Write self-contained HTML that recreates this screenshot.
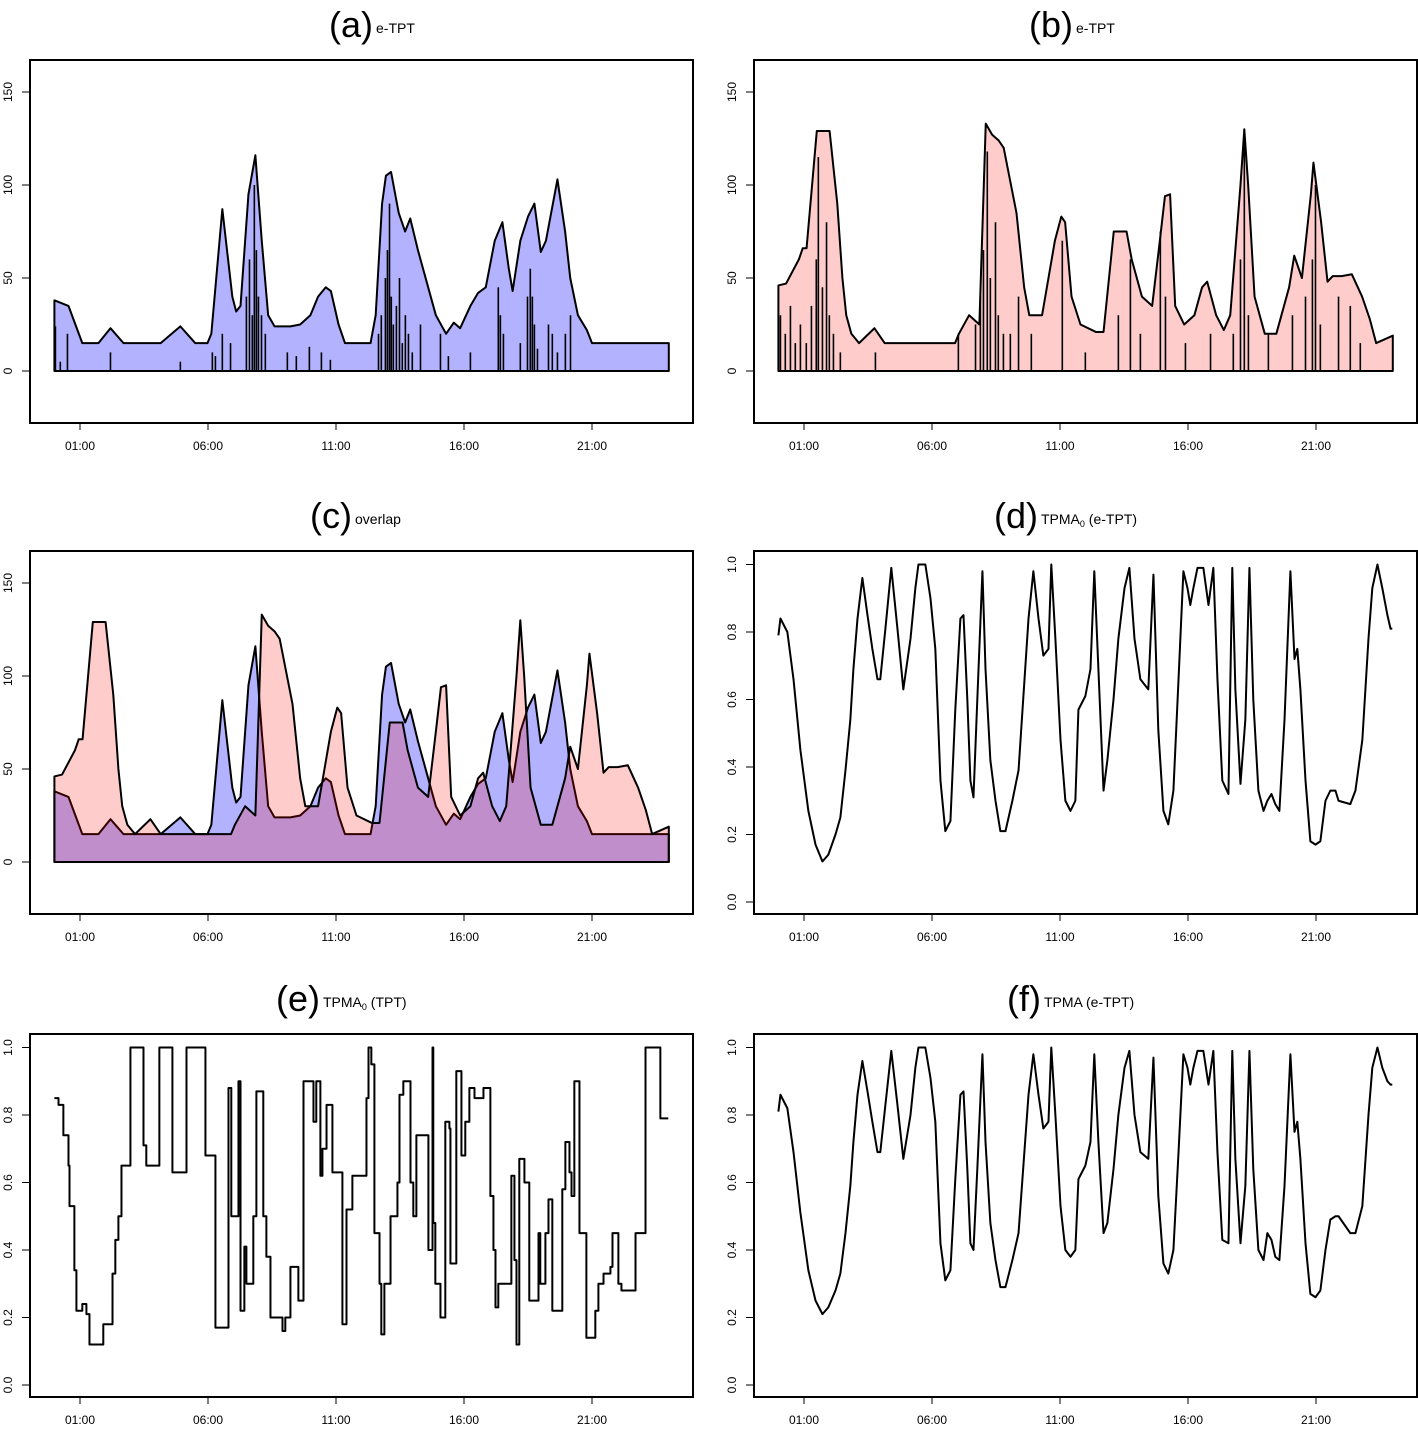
<!DOCTYPE html>
<html><head><meta charset="utf-8"><style>
html,body{margin:0;padding:0;background:#fff;}
svg{display:block;font-family:"Liberation Sans",Arial,sans-serif;}
</style></head><body>
<svg id="fig" width="1418" height="1429" viewBox="0 0 1418 1429"></svg>
<script>
// ---------- data ----------
const aTimes=[0,0.55,1.09,1.72,2.19,2.7,4.15,4.92,5.5,5.98,6.13,6.56,6.95,7.1,7.27,7.58,7.85,8.1,8.35,8.6,9.22,9.6,10.0,10.3,10.6,10.8,11.1,11.35,12.35,12.55,12.8,12.95,13.15,13.45,13.7,13.9,14.2,14.6,14.9,15.3,15.6,15.85,16.25,16.55,16.85,17.2,17.5,17.75,17.9,18.2,18.5,18.75,19.0,19.2,19.65,19.95,20.15,20.45,20.8,21.0,24.0];
const aValues=[38,35,15,15,23,15,15,24,15,15,20,87,40,32,35,95,116,70,30,24,24,25,30,40,45,43,25,15,15,30,90,105,107,85,75,82,65,45,30,20,26,23,35,42,45,70,80,55,43,70,83,90,64,70,103,75,50,30,22,15,15];
const bTimes=[0,0.3,0.8,0.95,1.1,1.5,2.0,2.3,2.5,2.65,2.85,3.15,3.75,4.15,6.9,7.05,7.45,7.85,8.1,8.35,8.6,8.8,9.3,9.6,9.8,10.3,10.8,11.05,11.2,11.45,11.8,12.4,12.7,13.1,13.6,13.8,14.2,14.6,14.9,15.1,15.3,15.5,15.85,16.25,16.55,16.75,17.1,17.4,17.65,18.05,18.2,18.35,18.6,19.0,19.45,19.95,20.15,20.45,20.8,20.9,21.2,21.45,21.65,22.0,22.4,22.8,23.1,23.35,24.0];
const bValues=[46,47,60,66,66,129,129,90,50,30,20,15,23,15,15,20,30,25,133,127,124,120,85,45,30,30,70,83,80,40,25,21,21,75,75,60,40,35,70,94,95,35,25,30,45,48,30,22,30,100,130,100,40,20,20,45,62,50,95,112,80,48,51,51,52,40,28,15,19];
const aSpikeTimes=[0.04,0.23,0.51,2.19,4.92,6.17,6.29,6.56,6.88,7.5,7.62,7.73,7.81,7.89,7.97,8.09,8.24,9.1,9.45,9.96,10.43,10.78,12.66,12.77,12.93,13.01,13.09,13.16,13.24,13.36,13.48,13.59,13.71,13.83,13.98,14.3,15.08,15.39,16.25,17.34,17.42,17.54,18.2,18.48,18.59,18.67,18.75,18.87,19.3,19.45,19.65,19.96,20.16];
const aSpikeValues=[24,5,20,10,5,10,8,20,15,40,60,30,100,65,40,30,20,10,8,13,10,6,20,30,50,65,90,40,25,35,50,15,30,20,10,25,20,8,10,45,30,20,15,40,55,40,25,12,25,20,10,20,30];
const bSpikeTimes=[0.08,0.27,0.47,0.66,0.86,1.09,1.29,1.48,1.56,1.72,1.88,1.99,2.15,2.42,3.79,7.03,7.7,7.89,8.01,8.16,8.28,8.48,8.59,8.79,9.06,9.38,9.88,11.09,11.99,13.28,13.75,14.14,14.92,15.12,15.9,16.88,17.77,18.05,18.2,18.36,19.14,20.08,20.59,20.86,20.98,21.17,21.88,22.34,22.73];
const bSpikeValues=[30,20,35,15,25,15,35,60,115,45,80,30,20,10,10,20,25,40,65,118,50,80,30,20,20,40,20,70,10,30,60,20,75,40,15,20,20,60,125,30,20,30,40,60,100,25,40,35,15];
const dTimes=[0,0.08,0.35,0.59,0.86,1.17,1.45,1.72,1.95,2.23,2.42,2.62,2.81,2.93,3.09,3.28,3.48,3.67,3.87,3.98,4.18,4.41,4.65,4.88,5.16,5.35,5.47,5.74,5.94,6.13,6.33,6.52,6.72,6.91,7.11,7.23,7.38,7.5,7.62,7.77,7.97,8.09,8.28,8.48,8.67,8.87,9.14,9.38,9.77,9.96,10.16,10.35,10.55,10.66,10.82,11.02,11.21,11.41,11.6,11.72,11.99,12.19,12.34,12.5,12.7,12.85,13.09,13.28,13.52,13.71,13.91,14.14,14.45,14.65,14.84,15.04,15.23,15.43,15.63,15.82,15.98,16.09,16.21,16.37,16.6,16.8,16.99,17.15,17.34,17.58,17.73,17.85,18.05,18.24,18.4,18.55,18.75,18.95,19.1,19.26,19.41,19.57,19.77,20,20.16,20.27,20.39,20.59,20.78,20.98,21.17,21.37,21.56,21.76,21.88,22.34,22.54,22.81,23.05,23.2,23.4,23.59,23.79,23.91,23.98];
const dValues=[0.79,0.84,0.80,0.66,0.45,0.27,0.17,0.12,0.14,0.20,0.25,0.39,0.54,0.69,0.84,0.96,0.85,0.75,0.66,0.66,0.81,0.99,0.81,0.63,0.78,0.93,1.0,1.0,0.9,0.75,0.36,0.21,0.24,0.57,0.84,0.85,0.6,0.36,0.31,0.6,0.98,0.69,0.42,0.30,0.21,0.21,0.30,0.39,0.84,0.98,0.84,0.73,0.75,1.0,0.78,0.48,0.30,0.27,0.30,0.57,0.61,0.69,0.98,0.69,0.33,0.42,0.6,0.78,0.93,0.99,0.78,0.66,0.63,0.97,0.51,0.27,0.23,0.33,0.66,0.98,0.93,0.88,0.93,0.99,0.99,0.88,0.99,0.66,0.36,0.32,0.99,0.63,0.35,0.54,0.99,0.6,0.33,0.27,0.30,0.32,0.29,0.27,0.54,0.98,0.72,0.75,0.63,0.36,0.18,0.17,0.18,0.30,0.33,0.33,0.30,0.29,0.33,0.48,0.78,0.93,1.0,0.93,0.85,0.81,0.81];
const fValues=[0.81,0.86,0.82,0.69,0.51,0.34,0.25,0.21,0.23,0.28,0.33,0.45,0.59,0.72,0.86,0.96,0.87,0.78,0.69,0.69,0.83,0.99,0.83,0.67,0.80,0.94,1,1,0.91,0.78,0.42,0.31,0.34,0.61,0.86,0.87,0.64,0.42,0.40,0.64,0.98,0.72,0.48,0.37,0.29,0.29,0.37,0.45,0.86,0.98,0.86,0.76,0.78,1,0.80,0.53,0.40,0.38,0.40,0.61,0.65,0.72,0.98,0.72,0.45,0.48,0.64,0.80,0.94,0.99,0.80,0.69,0.67,0.97,0.56,0.36,0.33,0.40,0.69,0.98,0.94,0.89,0.94,0.99,0.99,0.89,0.99,0.69,0.43,0.42,0.99,0.67,0.42,0.59,0.99,0.64,0.40,0.37,0.45,0.43,0.38,0.37,0.59,0.98,0.75,0.78,0.67,0.42,0.27,0.26,0.28,0.40,0.49,0.50,0.50,0.45,0.45,0.53,0.80,0.94,1,0.94,0.90,0.89,0.89];
const eTimes=[0,0.16,0.35,0.55,0.59,0.78,0.86,1.09,1.25,1.37,1.91,2.27,2.38,2.5,2.62,2.97,3.48,3.59,4.1,4.61,5.16,5.9,6.29,6.8,6.91,7.19,7.27,7.42,7.5,7.77,7.89,8.16,8.28,8.44,8.91,9.02,9.22,9.53,9.73,10.12,10.23,10.39,10.47,10.63,10.86,11.25,11.41,11.64,12.19,12.27,12.38,12.5,12.7,12.77,12.89,13.13,13.4,13.48,13.63,13.91,14.02,14.14,14.61,14.77,14.8,14.88,15.08,15.27,15.43,15.47,15.7,15.9,16.05,16.21,16.41,16.76,17.03,17.15,17.23,17.34,17.85,17.97,18.05,18.16,18.36,18.55,18.91,18.98,19.18,19.3,19.45,19.84,19.96,20.12,20.2,20.31,20.51,20.78,21.13,21.25,21.45,21.72,21.8,22.03,22.15,22.7,23.09,23.67,23.98];
const eValues=[0.85,0.83,0.74,0.65,0.53,0.34,0.22,0.24,0.21,0.12,0.18,0.33,0.43,0.5,0.65,1.0,0.71,0.65,1.0,0.63,1.0,0.68,0.17,0.88,0.5,0.9,0.22,0.41,0.3,0.5,0.87,0.5,0.38,0.2,0.16,0.2,0.35,0.25,0.9,0.78,0.9,0.62,0.7,0.83,0.63,0.18,0.52,0.62,0.85,1.0,0.95,0.45,0.3,0.15,0.3,0.5,0.6,0.86,0.9,0.6,0.5,0.74,0.4,1.0,0.48,0.3,0.2,0.78,0.76,0.36,0.93,0.68,0.78,0.88,0.85,0.88,0.56,0.4,0.23,0.3,0.62,0.37,0.12,0.67,0.6,0.25,0.45,0.3,0.45,0.55,0.22,0.58,0.72,0.63,0.56,0.9,0.45,0.14,0.22,0.3,0.33,0.35,0.45,0.3,0.28,0.45,1.0,0.79,0.79];
const xTickHours=[1,6,11,16,21];
const xTickLabels=["01:00","06:00","11:00","16:00","21:00"];
const countTicks=[0,50,100,150];
const countTickLabels=["0","50","100","150"];
const propTicks=[0,0.2,0.4,0.6,0.8,1.0];
const propTickLabels=["0.0","0.2","0.4","0.6","0.8","1.0"];

// ---------- helpers ----------
const NS="http://www.w3.org/2000/svg";
const svg=document.getElementById('fig');
function mk(tag,attrs,parent){const e=document.createElementNS(NS,tag);for(const k in attrs)e.setAttribute(k,attrs[k]);(parent||svg).appendChild(e);return e;}

function panel(ox,oy,kind,letter,letterEnd,sub,subscript,subrest,name){
  const g=mk('g',{});
  
  
  const L=ox,R=ox+663,T=oy,B=oy+363;
  const x=h=>ox+24.4+h*25.6;
  let y;
  if(kind==='count'){y=v=>oy+311-v*1.86;}
  else{y=v=>oy+351-v*337.5;}
  const t=mk('text',{x:letterEnd,y:oy-23,'text-anchor':'end','font-size':'36'},g);
  t.textContent='('+letter+')';
  
  
  const st=mk('text',{x:letterEnd+3,y:oy-27,'font-size':'14'},g);
  
  
  st.appendChild(document.createTextNode(sub));
  if(subscript){const ts=mk('tspan',{'font-size':'9',dy:'3'},st);ts.textContent=subscript;const tr=mk('tspan',{dy:'-3'},st);tr.textContent=subrest;}
  const ticks=kind==='count'?countTicks:propTicks, labs=kind==='count'?countTickLabels:propTickLabels;
  ticks.forEach((v,i)=>{
    const yy=y(v);
    const tk=mk('line',{x1:L-8,x2:L,y1:yy,y2:yy,stroke:'#000','stroke-width':1},g);
    
    
    const lb=mk('text',{x:0,y:0,transform:`translate(${L-18},${yy}) rotate(-90)`,'text-anchor':'middle','font-size':'12'},g);
    lb.textContent=labs[i];
    
    
  });
  xTickHours.forEach((h,i)=>{
    const xx=x(h);
    const tk=mk('line',{x1:xx,x2:xx,y1:B,y2:B+7,stroke:'#000','stroke-width':1},g);
    
    
    const lb=mk('text',{x:xx,y:B+27,'text-anchor':'middle','font-size':'12'},g);
    lb.textContent=xTickLabels[i];
    
    
  });
  return {g,x,y,L,R,T,B};
}
function area(p,times,vals,fill,name){
  let d=`M${p.x(times[0])},${p.y(0)}`;
  times.forEach((t,i)=>{d+=`L${p.x(t)},${p.y(vals[i])}`;});
  d+=`L${p.x(times[times.length-1])},${p.y(0)}Z`;
  const e=mk('path',{d,fill,stroke:'#000','stroke-width':2,'stroke-linejoin':'round'},p.g);
  
  
}
function spikes(p,times,vals,name){
  const g=mk('g',{},p.g);
  
  
  times.forEach((t,i)=>{
    const l=mk('line',{x1:p.x(t),x2:p.x(t),y1:p.y(0),y2:p.y(vals[i]),stroke:'#000','stroke-width':1.6},g);
    
    
  });
}
function line(p,times,vals,name,step){
  let d='';
  times.forEach((t,i)=>{
    if(i===0)d=`M${p.x(t)},${p.y(vals[i])}`;
    else if(step)d+=`L${p.x(t)},${p.y(vals[i-1])}L${p.x(t)},${p.y(vals[i])}`;
    else d+=`L${p.x(t)},${p.y(vals[i])}`;
  });
  const e=mk('path',{d,fill:'none',stroke:'#000','stroke-width':2,'stroke-linejoin':'round'},p.g);
  
  
}
function box(p){
  const r=mk('rect',{x:p.L,y:p.T,width:663,height:363,fill:'none',stroke:'#000','stroke-width':2},p.g);
  
  
}

let p=panel(30,60,'count','a',373,'e-TPT','','','panel-a');
area(p,aTimes,aValues,'rgb(178,178,255)','blue-area');
spikes(p,aSpikeTimes,aSpikeValues,'a-spikes');
box(p);
p=panel(754,60,'count','b',1073,'e-TPT','','','panel-b');
area(p,bTimes,bValues,'rgb(255,204,204)','red-area');
spikes(p,bSpikeTimes,bSpikeValues,'b-spikes');
box(p);
p=panel(30,551,'count','c',352,'overlap','','','panel-c');
area(p,aTimes,aValues,'rgb(178,178,255)','blue-area');
area(p,bTimes,bValues,'rgba(255,0,0,0.2)','red-area');
box(p);
p=panel(754,551,'prop','d',1038,'TPMA','0',' (e-TPT)','panel-d');
line(p,dTimes,dValues,'tpma0-etpt-line',false);
box(p);
p=panel(30,1034,'prop','e',320,'TPMA','0',' (TPT)','panel-e');
line(p,eTimes,eValues,'tpma0-tpt-line',true);
box(p);
p=panel(754,1034,'prop','f',1041,'TPMA (e-TPT)','','','panel-f');
line(p,dTimes,fValues,'tpma-etpt-line',false);
box(p);
</script>
</body></html>
